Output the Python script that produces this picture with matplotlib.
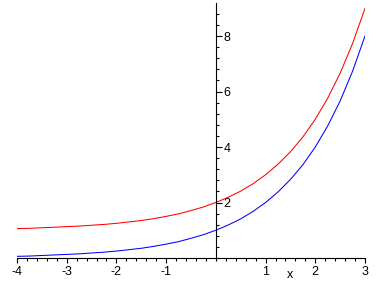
import matplotlib
matplotlib.use("Agg")
import matplotlib.pyplot as plt
from matplotlib.ticker import MultipleLocator, FixedLocator

plt.rcParams['font.family'] = ['Liberation Sans', 'DejaVu Sans']
plt.rcParams['axes.unicode_minus'] = False

x_vals = [-4.0, -3.75, -3.5, -3.25, -3.0, -2.75, -2.5, -2.25, -2.0, -1.75, -1.5, -1.25,
          -1.0, -0.75, -0.5, -0.25, 0.0, 0.25, 0.5, 0.75, 1.0, 1.25, 1.5, 1.75,
          2.0, 2.25, 2.5, 2.75, 3.0]
blue_vals = [0.06, 0.07, 0.09, 0.11, 0.13, 0.15, 0.18, 0.21, 0.25, 0.30, 0.35, 0.42,
             0.50, 0.59, 0.71, 0.84, 1.00, 1.19, 1.41, 1.68, 2.00, 2.38, 2.83, 3.36,
             4.00, 4.76, 5.66, 6.73, 8.00]
red_vals = [1.06, 1.07, 1.09, 1.11, 1.13, 1.15, 1.18, 1.21, 1.25, 1.30, 1.35, 1.42,
            1.50, 1.59, 1.71, 1.84, 2.00, 2.19, 2.41, 2.68, 3.00, 3.38, 3.83, 4.36,
            5.00, 5.76, 6.66, 7.73, 9.00]
x_ticks = [-4, -3, -2, -1, 1, 2, 3]
y_ticks = [2, 4, 6, 8]

W, H = 381, 283
fig = plt.figure(figsize=(W / 100, H / 100), dpi=100)
ax = fig.add_axes([17 / W, 25 / H, 348 / W, 255 / H])

ax.plot(x_vals, red_vals, color='#ff0000', lw=0.75)
ax.plot(x_vals, blue_vals, color='#0000ff', lw=0.75)

ax.set_xlim(-4, 3)
ax.set_ylim(0, 9.19)

ax.spines['top'].set_visible(False)
ax.spines['left'].set_visible(False)
ax.spines['right'].set_position(('data', 0))
ax.spines['right'].set_linewidth(0.8)
ax.spines['bottom'].set_linewidth(0.8)
ax.yaxis.tick_right()

ax.xaxis.set_major_locator(FixedLocator(x_ticks))
ax.xaxis.set_minor_locator(MultipleLocator(0.2))
ax.yaxis.set_major_locator(FixedLocator(y_ticks))
ax.yaxis.set_minor_locator(MultipleLocator(0.4))

ax.tick_params(axis='x', which='major', direction='out', length=3.5, width=0.8,
               pad=2.5, labelsize=9)
ax.tick_params(axis='x', which='minor', direction='out', length=2, width=0.8)
ax.tick_params(axis='y', which='major', direction='out', length=4, width=0.8,
               pad=1.5, labelsize=9)
ax.tick_params(axis='y', which='minor', direction='out', length=2, width=0.8)

fig.text(290 / W, 1 - 275 / H, 'x', ha='center', va='center', fontsize=9)

fig.savefig('out.png', dpi=100)
